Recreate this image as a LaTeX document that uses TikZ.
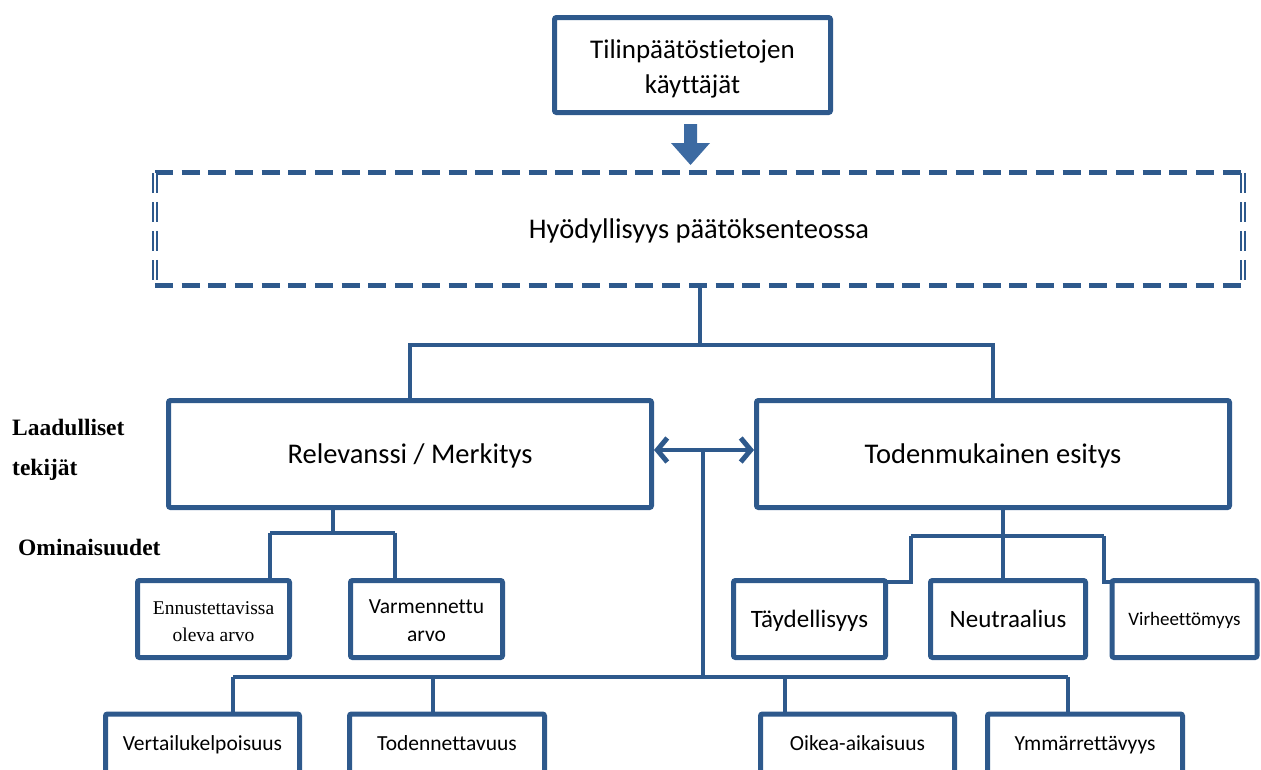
\documentclass[tikz,border=0pt]{standalone}
\usepackage{fontspec}
\setmainfont[Ligatures={NoCommon}]{Carlito}
\newfontfamily\seriffont{Liberation Serif}
\usetikzlibrary{arrows.meta,calc}
\definecolor{dblue}{RGB}{46,89,140}
\definecolor{ablue}{RGB}{60,106,162}
\pgfdeclarelayer{bg}
\pgfsetlayers{bg,main}
\newcommand{\twolines}[2]{\begin{tabular}[t]{@{}c@{}}#1\\#2\end{tabular}}
\begin{document}
\begin{tikzpicture}[x=1pt,y=-1pt,
  box/.style={draw=dblue, line width=5pt, fill=white, rounded corners=2pt, inner sep=0pt, text=black},
  conn/.style={draw=dblue, line width=4pt},
  dashedge/.style={draw=dblue, line width=5pt, dash pattern=on 18pt off 8.7pt},
  dashside/.style={draw=dblue, line width=1.8pt, double=white, double distance=2pt, dash pattern=on 20pt off 9pt},
  bigfont/.style={font=\fontsize{28.5}{34}\selectfont, text height=21.4pt, text depth=3.1pt},
  midfont/.style={font=\fontsize{25}{30}\selectfont, text height=18.75pt, text depth=2.75pt},
  smallfont/.style={font=\fontsize{21.5}{28}\selectfont, text height=16.1pt, text depth=2.4pt},
  lab/.style={font=\seriffont\bfseries\fontsize{23.5}{28}\selectfont, inner sep=0pt, anchor=base west}
]
\useasboundingbox (0,0) rectangle (1261,769);
\clip (0,0) rectangle (1261,769);

% top box
\node[box, minimum width=276pt, minimum height=95pt, font=\fontsize{27}{35}\selectfont, text height=20pt, text depth=32.8pt] (top) at (692.5,65) {\twolines{Tilinpäätöstietojen}{käyttäjät}};
% block arrow
\fill[ablue] (684,124) -- (697,124) -- (697,143) -- (710,143) -- (690.5,165) -- (671,143) -- (684,143) -- cycle;

% dashed box
\node[minimum width=1088pt, minimum height=112pt, inner sep=0pt, bigfont] (hy) at (699,229) {Hyödyllisyys päätöksenteossa};
\draw[dashedge] (hy.north west) -- (hy.north east);
\draw[dashedge] (hy.south west) -- (hy.south east);
\draw[dashside] (hy.north west) -- (hy.south west);
\draw[dashside] (hy.north east) -- (hy.south east);

% main boxes
\node[box, minimum width=483pt, minimum height=107pt, bigfont] (rel) at (410,454) {Relevanssi / Merkitys};
\node[box, minimum width=473pt, minimum height=107pt, bigfont] (tod) at (993,454) {Todenmukainen esitys};

% second row
\node[box, minimum width=152pt, minimum height=77pt, font=\seriffont\fontsize{19.5}{27}\selectfont, text height=14pt, text depth=23.2pt] (ennu) at (213.5,619) {\twolines{Ennustettavissa}{oleva arvo}};
\node[box, minimum width=152pt, minimum height=77pt, font=\fontsize{21.5}{28}\selectfont, text height=15pt, text depth=25.2pt] (varm) at (426.5,619) {\twolines{Varmennettu}{arvo}};
\node[box, minimum width=152pt, minimum height=77pt, midfont] (tayd) at (809.5,619) {Täydellisyys};
\node[box, minimum width=155pt, minimum height=77pt, midfont] (neut) at (1008,619) {Neutraalius};
\node[box, minimum width=145pt, minimum height=77pt, font=\fontsize{19}{24}\selectfont, text height=14.25pt, text depth=2.1pt] (virh) at (1184.5,619) {Virheettömyys};

% bottom row
\node[box, minimum width=194pt, minimum height=60pt, smallfont] (vert) at (202.5,744) {Vertailukelpoisuus};
\node[box, minimum width=195pt, minimum height=60pt, smallfont] (todn) at (447,744) {Todennettavuus};
\node[box, minimum width=194pt, minimum height=60pt, smallfont] (oike) at (857.5,744) {Oikea-aikaisuus};
\node[box, minimum width=195pt, minimum height=60pt, smallfont] (ymma) at (1085,744) {Ymmärrettävyys};

% labels
\node[lab] (l1) at (12,435) {Laadulliset};
\node[lab] (l2) at (12,475) {tekijät};
\node[lab] (l3) at (18,555) {Ominaisuudet};

% connectors (behind boxes)
\begin{pgfonlayer}{bg}
\coordinate (c1) at (700,345);
\draw[conn] (hy.south -| c1) -- (c1);
\draw[conn] (rel.north) |- (c1) -| (tod.north);

\coordinate (mid) at (703,450);
\draw[conn] (mid) -- (mid |- 0,677);

\coordinate (b1) at (233,677);
\coordinate (b2) at (433,677);
\coordinate (b3) at (785,677);
\coordinate (b4) at (1068,677);
\draw[conn] (b1) -- (b4);
\draw[conn] (b1) -- ($(b1 |- vert.north)+(0,4)$);
\draw[conn] (b2) -- ($(b2 |- todn.north)+(0,4)$);
\draw[conn] (b3) -- ($(b3 |- oike.north)+(0,4)$);
\draw[conn] (b4) -- ($(b4 |- ymma.north)+(0,4)$);

\coordinate (r0) at (333,533);
\coordinate (r1) at (270,533);
\coordinate (r2) at (395,533);
\draw[conn] ($(rel.south -| r0)+(0,-4)$) -- (r0);
\draw[conn] (r1) -- (r2);
\draw[conn] (r1) -- ($(r1 |- ennu.north)+(0,4)$);
\draw[conn] (r2) -- ($(r2 |- varm.north)+(0,4)$);

\coordinate (t0) at (1003,536);
\coordinate (t1) at (911,536);
\coordinate (t2) at (1104,536);
\draw[conn] ($(tod.south -| t0)+(0,-4)$) -- ($(t0 |- neut.north)+(0,4)$);
\draw[conn] (t1) -- (t2);
\draw[conn] (t1) |- ($(tayd.north)+(0,4)$);
\draw[conn] (t2) |- ($(virh.north)+(0,4)$);
\end{pgfonlayer}

\draw[conn, {Straight Barb[length=10pt,width=24pt,line width=5pt]}-{Straight Barb[length=10pt,width=24pt,line width=5pt]}] (mid -| rel.east) -- (mid -| tod.west);
\end{tikzpicture}
\end{document}
